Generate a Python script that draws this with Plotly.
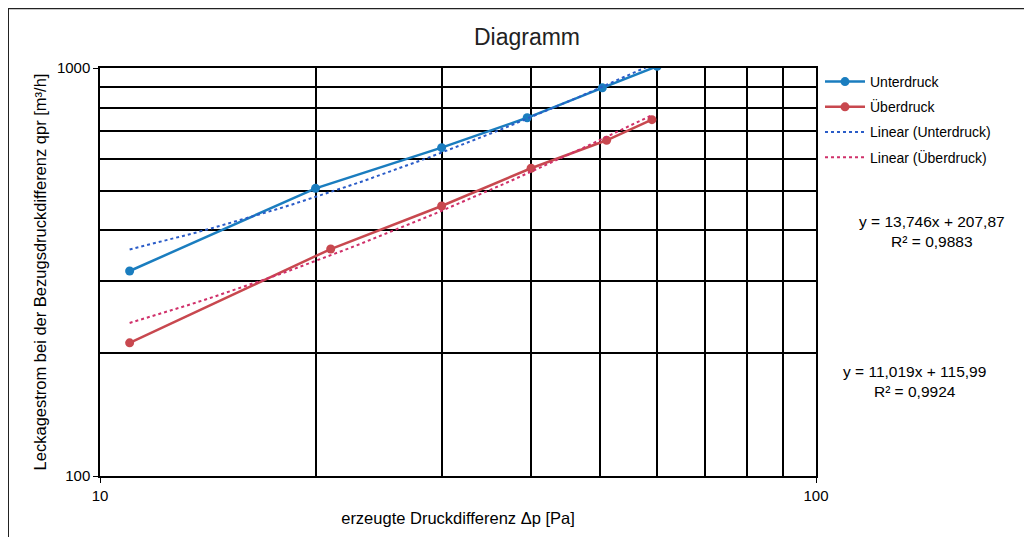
import numpy as np
import plotly.graph_objects as go

# Data
unter_x = [11, 20, 30, 39.5, 50.3, 60]
unter_y = [318, 507, 638, 755, 894, 1010]
ueber_x = [11, 21, 30, 40, 51, 59]
ueber_y = [212, 360, 459, 568, 665, 747]

# Linear trendline coefficients (slope, intercept) as shown in chart
unter_fit = [13.746, 207.87]
ueber_fit = [11.019, 115.99]
unter_eq = "y = 13,746x + 207,87<br>R² = 0,9883"
ueber_eq = "y = 11,019x + 115,99<br>R² = 0,9924"

x_major = [10, 100]
x_minor = [20, 30, 40, 50, 60, 70, 80, 90]
y_major = [100, 1000]
y_minor = [200, 300, 400, 500, 600, 700, 800, 900]

BLUE = "#1a7dbf"
RED = "#c8484f"
BLUE_DOT = "#2a5cc8"
RED_DOT = "#d0306a"
FONT = "Liberation Sans, Arial, sans-serif"

fig = go.Figure()
fig.add_trace(go.Scatter(x=unter_x, y=unter_y, mode="lines+markers", name="Unterdruck", legendgroup="a",
                         line=dict(color=BLUE, width=2.5), marker=dict(size=9, color=BLUE)))
fig.add_trace(go.Scatter(x=ueber_x, y=ueber_y, mode="lines+markers", name="Überdruck", legendgroup="b",
                         line=dict(color=RED, width=2.5), marker=dict(size=9, color=RED)))

tx_u = np.linspace(min(unter_x), max(unter_x), 60)
tx_o = np.linspace(min(ueber_x), max(ueber_x), 60)
fig.add_trace(go.Scatter(x=tx_u, y=unter_fit[0] * tx_u + unter_fit[1], mode="lines", legendgroup="c",
                         name="Linear (Unterdruck)", line=dict(color=BLUE_DOT, width=2, dash="dot")))
fig.add_trace(go.Scatter(x=tx_o, y=ueber_fit[0] * tx_o + ueber_fit[1], mode="lines", legendgroup="d",
                         name="Linear (Überdruck)", line=dict(color=RED_DOT, width=2, dash="dot")))

OFF = 8  # page body offset
W, H = 1016, 529
L, T = 100 - OFF, 68 - OFF
pw, ph = 716, 410
R = W - L - pw
B = H - T - ph

def px(xs):
    return (xs - OFF - L) / pw

def py(ys):
    return (T + ph - (ys - OFF)) / ph

fig.update_layout(
    width=W, height=H,
    margin=dict(l=L, r=R, t=T, b=B),
    paper_bgcolor="white", plot_bgcolor="white",
    font=dict(family=FONT, size=15, color="black"),
    title=dict(text="Diagramm", x=px(527), xref="paper", xanchor="center",
               y=1 - (37 - OFF) / H, yanchor="middle", font=dict(size=23, family=FONT, color="#222")),
    showlegend=True,
    legend=dict(x=px(820), y=py(66), xanchor="left", yanchor="top",
                font=dict(size=14, family=FONT), bgcolor="rgba(0,0,0,0)",
                tracegroupgap=4, itemwidth=40),
    xaxis=dict(type="log", range=[1, 2], tickvals=x_major, ticktext=["10", "100"],
               showgrid=True, gridcolor="black", gridwidth=1.5,
               showline=True, linecolor="black", linewidth=1.5, mirror=True,
               ticks="outside", ticklen=5, tickcolor="black",
               minor=dict(tickvals=x_minor, showgrid=True, gridcolor="black", gridwidth=1.5, ticks=""),
               title=dict(text="erzeugte Druckdifferenz Δp [Pa]", font=dict(size=16.5), standoff=10),
               tickfont=dict(size=15), zeroline=False),
    yaxis=dict(type="log", range=[2, 3], tickvals=y_major, ticktext=["100", "1000"],
               showgrid=True, gridcolor="black", gridwidth=1.5,
               showline=True, linecolor="black", linewidth=1.5, mirror=True,
               ticks="outside", ticklen=5, tickcolor="black",
               minor=dict(tickvals=y_minor, showgrid=True, gridcolor="black", gridwidth=1.5, ticks=""),
               title=dict(text="Leckagestrom bei der Bezugsdruckdifferenz qpr [m³/h]", font=dict(size=16.5), standoff=6),
               tickfont=dict(size=15), zeroline=False),
)

fig.add_annotation(x=px(932), y=py(232), xref="paper", yref="paper", text=unter_eq,
                   xanchor="center", yanchor="middle",
                   showarrow=False, font=dict(size=15.5, family=FONT), align="center")
fig.add_annotation(x=px(914), y=py(383), xref="paper", yref="paper", text=ueber_eq,
                   xanchor="center", yanchor="middle",
                   showarrow=False, font=dict(size=15.5, family=FONT), align="center")

# Outer chart frame (top and left visible in reference)
fig.add_shape(type="line", xref="paper", yref="paper", x0=px(8), x1=px(1040), y0=py(8), y1=py(8),
              line=dict(color="#222", width=2))
fig.add_shape(type="line", xref="paper", yref="paper", x0=px(8), x1=px(8), y0=py(8), y1=py(560),
              line=dict(color="#222", width=2))

fig.write_html("out.html")
